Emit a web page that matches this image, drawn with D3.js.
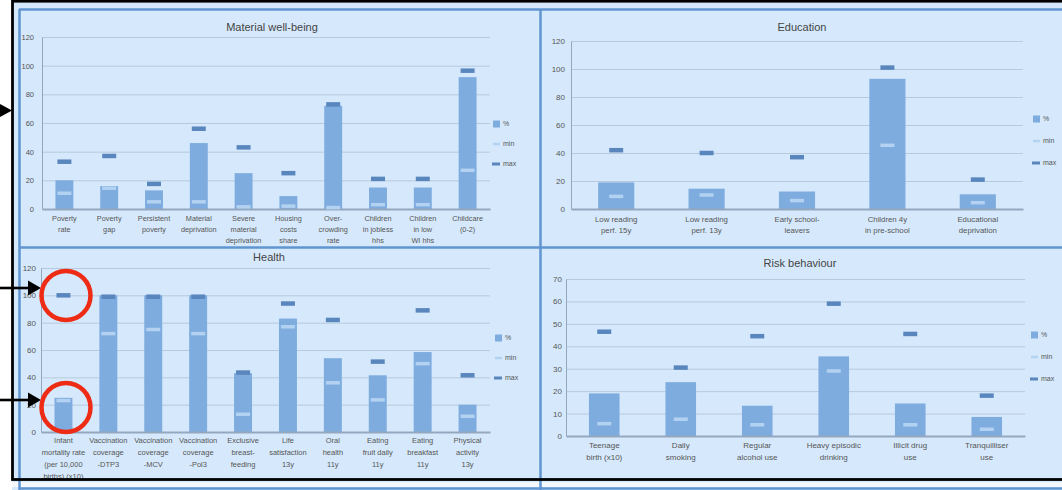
<!DOCTYPE html>
<html><head><meta charset="utf-8">
<script src="https://cdn.jsdelivr.net/npm/d3@7"></script>
<style>
html,body{margin:0;padding:0;background:#fff;}
svg{display:block;font-family:"Liberation Sans",Arial,sans-serif;}
</style></head><body>
<svg id="c" width="1062" height="490"></svg>
<script>
// ---------- DATA ----------
const legendLabels = ["%", "min", "max"];
const ticks120 = [0, 20, 40, 60, 80, 100, 120];
const ticks70 = [0, 10, 20, 30, 40, 50, 60, 70];

const materialTitle = "Material well-being";
const materialCategories = ["Poverty\nrate", "Poverty\ngap", "Persistent\npoverty", "Material\ndeprivation", "Severe\nmaterial\ndeprivation", "Housing\ncosts\nshare", "Over-\ncrowding\nrate", "Children\nin jobless\nhhs", "Children\nin low\nWI hhs", "Childcare\n(0-2)"];
const materialPct = [20, 16, 13, 46, 25, 9, 72, 15, 15, 92];
const materialMin = [11, 14.5, 5, 5, 1.5, 2, 1, 3, 3, 27];
const materialMax = [33, 37, 17.5, 56, 43, 25, 73, 21, 21, 96.5];

const educationTitle = "Education";
const educationCategories = ["Low reading\nperf. 15y", "Low reading\nperf. 13y", "Early school-\nleavers", "Children 4y\nin pre-school", "Educational\ndeprivation"];
const educationPct = [19, 14.5, 12.5, 93, 10.5];
const educationMin = [9, 10, 6, 45.5, 4.5];
const educationMax = [42, 40, 37, 101, 21];

const healthTitle = "Health";
const healthCategories = ["Infant\nmortality rate\n(per 10,000\nbirths) (x10)", "Vaccination\ncoverage\n-DTP3", "Vaccination\ncoverage\n-MCV", "Vaccination\ncoverage\n-Pol3", "Exclusive\nbreast-\nfeeding", "Life\nsatisfaction\n13y", "Oral\nhealth\n11y", "Eating\nfruit daily\n11y", "Eating\nbreakfast\n11y", "Physical\nactivity\n13y"];
const healthPct = [25, 100, 100, 100, 43, 83, 54, 41.5, 58.5, 20];
const healthMin = [23, 72, 75, 72, 13, 77, 36, 23.5, 50, 11.5];
const healthMax = [100, 99, 99, 99, 43.5, 94, 82, 51.5, 89, 41.5];

const riskTitle = "Risk behaviour";
const riskCategories = ["Teenage\nbirth (x10)", "Daily\nsmoking", "Regular\nalcohol use", "Heavy episodic\ndrinking", "Illicit drug\nuse", "Tranquilliser\nuse"];
const riskPct = [19, 24, 13.5, 35.5, 14.5, 8.5];
const riskMin = [5.5, 7.5, 5, 29, 5, 3];
const riskMax = [46.5, 30.5, 44.5, 59, 45.5, 18];

// ---------- STYLE ----------
const C = {
  bg: "#d6e9fc", border: "#5f95d1", bar: "#7eacdf", max: "#5a86be", min: "#b3d2f2",
  grid: "#b7c9dc", axis: "#93a8be", text: "#555", title: "#444"
};

const svg = d3.select("#c");

// chart background
svg.append("rect").attr("x", 12).attr("y", 0).attr("width", 1050).attr("height", 490).attr("fill", C.bg);
svg.append("rect").attr("x", 12).attr("y", 482).attr("width", 1050).attr("height", 5).attr("fill", "#f4f8fc");

// panel borders
const borders = [
  [19.5, 9, 19.5, 490], [19, 9.5, 1062, 9.5], [540.5, 9, 540.5, 490],
  [19, 247.5, 1062, 247.5], [19, 488.5, 1062, 488.5]
];
svg.append("g").selectAll("line").data(borders).join("line")
  .attr("x1", d => d[0]).attr("y1", d => d[1]).attr("x2", d => d[2]).attr("y2", d => d[3])
  .attr("stroke", C.border).attr("stroke-width", 2.5);

const panels = [
  {title: materialTitle, cats: materialCategories, pct: materialPct, min: materialMin, max: materialMax,
   ticks: ticks120, top: 120, x0: 42, x1: 490, yb: 209, yt: 37, tx: 272, ty: 27,
   lx: 493, ly: 124, lgap: 20, lf: 7.3, lh: 11, labY: 218, tickPad: 8, tickF: 7.5},
  {title: educationTitle, cats: educationCategories, pct: educationPct, min: educationMin, max: educationMax,
   ticks: ticks120, top: 120, x0: 571, x1: 1023, yb: 209, yt: 41, tx: 802, ty: 27,
   lx: 1033, ly: 119, lgap: 22, lf: 7.8, lh: 11, labY: 219, tickPad: 6, tickF: 8},
  {title: healthTitle, cats: healthCategories, pct: healthPct, min: healthMin, max: healthMax,
   ticks: ticks120, top: 120, x0: 41, x1: 490, yb: 432, yt: 268, tx: 269, ty: 257,
   lx: 495, ly: 338, lgap: 20, lf: 7.5, lh: 12, labY: 440, tickPad: 5, tickF: 8},
  {title: riskTitle, cats: riskCategories, pct: riskPct, min: riskMin, max: riskMax,
   ticks: ticks70, top: 70, x0: 566, x1: 1025, yb: 436, yt: 279, tx: 800, ty: 263,
   lx: 1031, ly: 335, lgap: 22, lf: 8, lh: 12, labY: 445, tickPad: 4, tickF: 8}
];

panels.forEach(p => {
  const g = svg.append("g");
  const x = d3.scaleBand().domain(p.cats).range([p.x0, p.x1]).paddingInner(0.6).paddingOuter(0.3);
  const y = d3.scaleLinear().domain([0, p.top]).range([p.yb, p.yt]);

  // title
  g.append("text").attr("x", p.tx).attr("y", p.ty).attr("dy", "0.35em").attr("text-anchor", "middle")
    .attr("font-size", 11).attr("fill", C.title).text(p.title);

  // gridlines
  const grid = g.append("g").attr("transform", `translate(${p.x0},0)`)
    .call(d3.axisLeft(y).tickValues(p.ticks.filter(t => t > 0)).tickSize(-(p.x1 - p.x0)).tickFormat(""));
  grid.select(".domain").remove();
  grid.selectAll(".tick line").attr("stroke", C.grid).attr("stroke-width", 1);

  // y axis labels
  const ya = g.append("g").attr("transform", `translate(${p.x0},0)`)
    .call(d3.axisLeft(y).tickValues(p.ticks).tickSize(0).tickPadding(p.tickPad));
  ya.select(".domain").attr("stroke", C.axis).attr("stroke-width", 1);
  ya.selectAll(".tick text").attr("font-size", p.tickF).attr("fill", C.text)
    .attr("font-family", '"Liberation Sans",Arial,sans-serif');

  // bars
  g.append("g").selectAll("rect").data(p.pct).join("rect")
    .attr("x", (d, i) => x(p.cats[i])).attr("width", x.bandwidth())
    .attr("y", d => y(d)).attr("height", d => y(0) - y(d)).attr("fill", C.bar);

  // x axis baseline
  const xa = g.append("g").attr("transform", `translate(0,${p.yb})`)
    .call(d3.axisBottom(x).tickSize(0).tickFormat(""));
  xa.select(".domain").attr("stroke", C.axis).attr("stroke-width", 2);

  // min markers
  const mw = 14;
  g.append("g").selectAll("rect").data(p.min).join("rect")
    .attr("x", (d, i) => x(p.cats[i]) + x.bandwidth() / 2 - mw / 2).attr("width", mw)
    .attr("y", d => y(d) - 1.75).attr("height", 3.5).attr("fill", C.min);
  // max markers
  g.append("g").selectAll("rect").data(p.max).join("rect")
    .attr("x", (d, i) => x(p.cats[i]) + x.bandwidth() / 2 - mw / 2).attr("width", mw)
    .attr("y", d => y(d) - 2.25).attr("height", 4.5).attr("fill", C.max);

  // category labels
  const lab = g.append("g").selectAll("text").data(p.cats).join("text")
    .attr("x", d => x(d) + x.bandwidth() / 2).attr("y", p.labY)
    .attr("text-anchor", "middle").attr("font-size", p.lf).attr("fill", C.text);
  lab.each(function(d) {
    const t = d3.select(this);
    d.split("\n").forEach((line, k) => {
      t.append("tspan").attr("x", x(d) + x.bandwidth() / 2).attr("y", p.labY + k * p.lh)
        .attr("dy", "0.35em").text(line);
    });
  });

  // legend
  const lg = g.append("g");
  legendLabels.forEach((name, k) => {
    const ly = p.ly + k * p.lgap;
    if (k === 0) lg.append("rect").attr("x", p.lx).attr("y", ly - 3.5).attr("width", 7).attr("height", 7).attr("fill", C.bar);
    if (k === 1) lg.append("rect").attr("x", p.lx).attr("y", ly - 1.25).attr("width", 7).attr("height", 2.5).attr("fill", C.min);
    if (k === 2) lg.append("rect").attr("x", p.lx - 1).attr("y", ly - 1.5).attr("width", 8).attr("height", 3).attr("fill", C.max);
    lg.append("text").attr("x", p.lx + 10).attr("y", ly).attr("dy", "0.35em")
      .attr("font-size", 7).attr("fill", C.text).text(name);
  });
});

// ---------- annotations ----------
const ann = svg.append("g");
// black frame
ann.append("rect").attr("x", 12.5).attr("y", 1.2).attr("width", 1060).attr("height", 478.3)
  .attr("fill", "none").attr("stroke", "#000").attr("stroke-width", 2.8);
// arrows
ann.append("path").attr("d", "M0,104 L12,110.5 L0,117 Z").attr("fill", "#000");
[288, 400].forEach(yy => {
  ann.append("line").attr("x1", 0).attr("x2", 29).attr("y1", yy).attr("y2", yy).attr("stroke", "#000").attr("stroke-width", 2.6);
  ann.append("path").attr("d", `M28,${yy - 7.5} L41,${yy} L28,${yy + 7.5} Z`).attr("fill", "#000");
});
// red circles
[295.5, 407.5].forEach(cy => {
  ann.append("circle").attr("cx", 66).attr("cy", cy).attr("r", 24.5)
    .attr("fill", "none").attr("stroke", "#ee2b14").attr("stroke-width", 4.5);
});
</script>
</body></html>
